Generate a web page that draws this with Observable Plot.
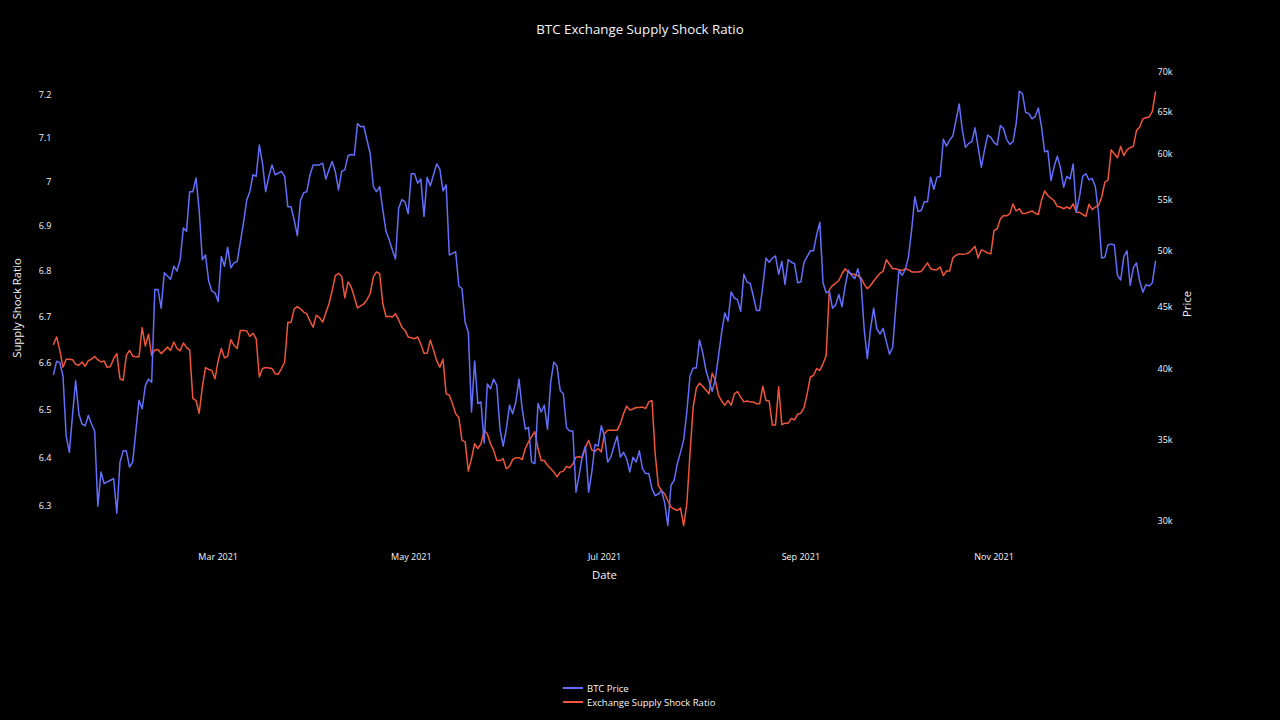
<!DOCTYPE html>
<html>
<head>
<meta charset="utf-8">
<script src="https://cdn.jsdelivr.net/npm/d3@7"></script>
<script src="https://cdn.jsdelivr.net/npm/@observablehq/plot@0.6"></script>
<style>
  html, body { margin: 0; padding: 0; background: #000; }
  #wrap { position: relative; width: 1280px; height: 720px; background: #000; overflow: hidden;
          font-family: 'Open Sans', sans-serif; color: #f2f5fa; }
  #title { position: absolute; top: 20px; left: 0; width: 1280px; text-align: center;
           font-size: 13.3px; line-height: 18px; }
  #chart { position: absolute; top: 50px; left: 0; }
  #legend { position: absolute; left: 563px; top: 681px; font-size: 9.5px; }
  .row { display: flex; align-items: center; height: 14px; }
  .sw { width: 20px; height: 1.5px; margin-right: 4px; }
</style>
</head>
<body>
<div id="wrap">
  <div id="title"></div>
  <div id="chart"></div>
  <div id="legend"></div>
</div>
<script>
const chartTitle = "BTC Exchange Supply Shock Ratio";
const xTitle = "Date";
const yLeftTitle = "Supply Shock Ratio";
const yRightTitle = "Price";
const seriesNames = ["BTC Price", "Exchange Supply Shock Ratio"];
const seriesColors = ["#636EFA", "#EF553B"];

// daily series starting at this date (null = not read)
const startDate = "2021-01-08";
const monthTicks = ["2021-03-01", "2021-05-01", "2021-07-01", "2021-09-01", "2021-11-01"];
const ratioTicks = [6.3, 6.4, 6.5, 6.6, 6.7, 6.8, 6.9, 7, 7.1, 7.2];
const priceTicks = [30000, 35000, 40000, 45000, 50000, 55000, 60000, 65000, 70000];

const priceValues = [
39600,40600,40480,39480,35240,34180,36650,39130,36770,36060,
35940,36650,36060,35590,30885,32940,32220,32325,32430,32530,
30470,33560,34280,34280,33250,33560,null,37710,37120,38770,
39250,39010,46490,46490,44870,47980,null,47380,48570,48125,
49170,52200,51875,55900,55900,57360,54010,49170,49610,47230,
46340,46190,45450,49460,48570,50330,48420,48870,49020,null,
52700,55000,55900,57720,57540,61050,58990,55900,57540,58800,
57720,null,58080,57540,54340,54340,53030,51450,55000,55800,
55900,57720,58800,58800,58800,58990,57250,58260,59170,58080,
56090,58080,58260,59820,59960,59890,63570,63180,63260,61630,
60080,56450,55900,56450,54010,51875,51050,50070,49230,54180,
55070,54840,53620,57830,57830,56810,57250,53360,57460,56520,
57720,58910,58330,55980,56630,49610,49760,49910,46790,46550,
43670,42870,36890,40610,37480,37590,34790,38890,38540,39250,
38770,35710,34590,35710,37360,36770,37590,39250,37120,35710,
35830,33560,33460,37480,36890,37360,35710,39010,40530,40210,
38420,38180,35830,35590,35590,31710,32740,33970,34590,31710,
32940,34690,34590,35940,35240,33560,33870,34590,35240,33870,
34180,33770,32940,33870,33560,34280,33150,32840,32840,31910,
31500,31600,31810,31090,29775,32120,32430,33460,34180,35000,
36890,39480,40080,40080,42260,41280,39950,39130,38350,39250,
41010,42870,44470,43800,46280,45740,45600,44600,47830,47140,
47020,45890,44680,44680,46790,49320,48930,49320,49520,47830,
49020,46930,49170,48930,48810,47080,47140,48930,49460,50000,
50000,51550,52760,47080,46190,46340,44870,45150,46040,45000,
46790,48210,47740,47440,48330,47140,43140,40800,43140,44870,
43140,42740,43190,42130,41140,41680,45000,48210,47740,48270,
49460,52040,55360,53850,53950,54840,54840,57460,56160,57460,
57540,61710,60930,61630,62090,63950,65975,62790,60780,61240,
61430,63060,60780,58550,60470,62210,61940,61320,61050,63330,
62980,61710,61120,61430,63570,67585,67250,64920,64810,64150,
64420,65470,63180,60270,60390,57100,58620,59780,58440,56380,
57540,57250,58910,53850,55360,57540,57830,57170,57320,56450,
53680,49320,49400,50560,50660,50560,47740,47320,49460,50000,
46850,48420,48870,47230,46250,46900,46790,47080,49020
];

const ratioValues = [
6.641,6.657,6.628,6.592,6.609,6.609,6.608,6.598,6.596,6.603,
6.594,6.606,6.609,6.615,6.608,6.603,6.605,6.591,6.594,6.610,
6.621,6.567,6.564,6.617,6.628,6.616,6.614,6.614,6.677,6.637,
6.663,6.617,6.629,6.630,6.621,6.628,6.635,6.628,6.646,6.632,
6.627,6.644,6.634,6.629,6.525,6.521,6.494,6.550,6.591,6.587,
6.585,6.567,6.606,6.632,6.612,6.615,6.651,6.639,6.632,6.671,
6.671,6.670,6.658,6.665,6.653,6.571,6.589,6.591,null,6.589,
6.578,6.577,6.589,6.603,6.689,6.688,6.718,6.723,6.718,6.711,
6.707,6.691,6.678,6.704,6.699,6.689,6.709,6.729,6.758,6.791,
6.796,6.789,6.742,6.777,6.766,6.744,6.720,null,6.729,6.738,
6.751,6.788,6.799,6.795,6.729,6.701,6.702,6.700,6.707,6.694,
6.678,6.671,6.657,6.655,6.653,6.657,6.641,6.622,6.622,6.650,
6.629,6.606,6.592,6.609,6.535,6.532,6.514,6.493,6.485,6.437,
6.434,6.373,6.399,6.430,6.420,6.430,6.458,6.451,6.430,6.416,
6.395,6.395,6.399,6.378,6.383,6.397,6.401,6.401,6.397,6.420,
6.434,6.445,6.455,6.420,6.395,6.395,6.385,null,6.371,6.361,
6.371,6.373,6.383,6.380,6.388,6.402,6.403,6.401,6.423,6.437,
6.417,6.414,6.420,6.413,6.451,6.458,6.458,6.458,6.458,6.472,
6.493,6.509,6.501,6.503,6.506,6.506,6.507,6.504,6.518,6.521,
6.409,6.343,6.333,6.326,6.312,6.299,6.295,6.292,6.297,6.261,
6.306,6.409,6.507,6.547,6.558,6.551,6.543,6.535,6.579,6.564,
6.532,6.520,6.511,6.521,6.511,6.535,6.540,6.528,6.518,6.520,
6.518,6.518,6.514,6.514,6.551,6.521,6.520,6.469,6.469,6.550,
6.470,6.473,6.473,6.483,6.480,6.492,6.494,6.506,6.535,6.571,
6.574,6.589,6.585,6.599,6.617,6.760,6.769,6.774,6.780,6.795,
6.806,6.798,6.795,null,6.791,6.786,6.772,6.762,6.769,6.779,
6.788,6.796,6.801,6.826,6.816,6.806,6.806,6.804,6.802,6.806,
6.804,6.799,6.799,6.799,6.800,null,6.819,6.806,6.804,6.804,
6.810,6.791,6.801,6.801,6.830,6.836,6.839,6.838,6.839,6.841,
6.848,6.856,6.830,6.848,6.845,6.841,6.839,6.891,6.895,6.917,
6.925,6.924,6.929,6.951,6.935,6.940,6.929,6.930,6.932,6.935,
6.930,6.927,6.959,6.980,6.970,null,6.958,6.945,6.944,6.940,
6.944,6.940,6.951,6.932,6.932,6.927,6.923,6.950,6.938,6.944,
6.947,6.966,7.000,7.005,7.074,7.065,7.056,7.082,7.061,7.074,
7.079,7.082,7.119,7.126,7.146,7.148,7.150,7.163,7.208
];

// axis ranges (both log, sharing the same frame)
const ratioDomain = [6.2513, 7.2352];
const priceDomain = [29495, 68955];

const lr0 = Math.log(ratioDomain[0]), lr1 = Math.log(ratioDomain[1]);
const lp0 = Math.log(priceDomain[0]), lp1 = Math.log(priceDomain[1]);
const toRatio = p => Math.exp(lr0 + (Math.log(p) - lp0) / (lp1 - lp0) * (lr1 - lr0));
const toPrice = r => Math.exp(lp0 + (Math.log(r) - lr0) / (lr1 - lr0) * (lp1 - lp0));

const start = new Date(startDate + "T00:00:00Z");
const mk = vals => vals.map((v, i) => ({date: d3.utcDay.offset(start, i), value: v})).filter(d => d.value != null);
const priceData = mk(priceValues);
const ratioData = mk(ratioValues);
const end = d3.utcDay.offset(start, Math.max(priceValues.length, ratioValues.length) - 1);

document.getElementById("title").textContent = chartTitle;

const chart = Plot.plot({
  width: 1280,
  height: 540,
  marginTop: 30,
  marginBottom: 60,
  marginLeft: 53,
  marginRight: 125,
  style: {background: "#000", color: "#f2f5fa", fontFamily: "'Open Sans', sans-serif", fontSize: "9px"},
  x: {type: "utc", domain: [start, end]},
  y: {type: "log", domain: ratioDomain},
  marks: [
    Plot.axisX(monthTicks.map(s => new Date(s + "T00:00:00Z")), {tickSize: 0, tickPadding: 23, tickFormat: d3.utcFormat("%b %Y"), label: null}),
    Plot.axisY(ratioTicks, {anchor: "left", tickSize: 0, tickPadding: 2, tickFormat: d => `${d}`, label: null}),
    Plot.axisY(priceTicks.map(toRatio), {anchor: "right", tickSize: 0, tickPadding: 2, tickFormat: d => `${Math.round(toPrice(d) / 1000)}k`, label: null}),
    Plot.line(ratioData, {x: "date", y: "value", stroke: seriesColors[1], strokeWidth: 1.5}),
    Plot.line(priceData, {x: "date", y: d => toRatio(d.value), stroke: seriesColors[0], strokeWidth: 1.5}),
    Plot.text([xTitle], {text: d => d, frameAnchor: "bottom", lineAnchor: "middle", dy: 45, fontSize: 11.3}),
    Plot.text([yLeftTitle], {text: d => d, frameAnchor: "left", textAnchor: "middle", lineAnchor: "middle", dx: -36, dy: 2.5, rotate: -90, fontSize: 11.3}),
    Plot.text([yRightTitle], {text: d => d, frameAnchor: "right", textAnchor: "middle", lineAnchor: "middle", dx: 32, dy: -1.5, rotate: -90, fontSize: 11.3})
  ]
});
document.getElementById("chart").appendChild(chart);

const legend = document.getElementById("legend");
seriesNames.forEach((name, i) => {
  const row = document.createElement("div");
  row.className = "row";
  const sw = document.createElement("div");
  sw.className = "sw";
  sw.style.background = seriesColors[i];
  const label = document.createElement("span");
  label.textContent = name;
  row.appendChild(sw);
  row.appendChild(label);
  legend.appendChild(row);
});
</script>
</body>
</html>
